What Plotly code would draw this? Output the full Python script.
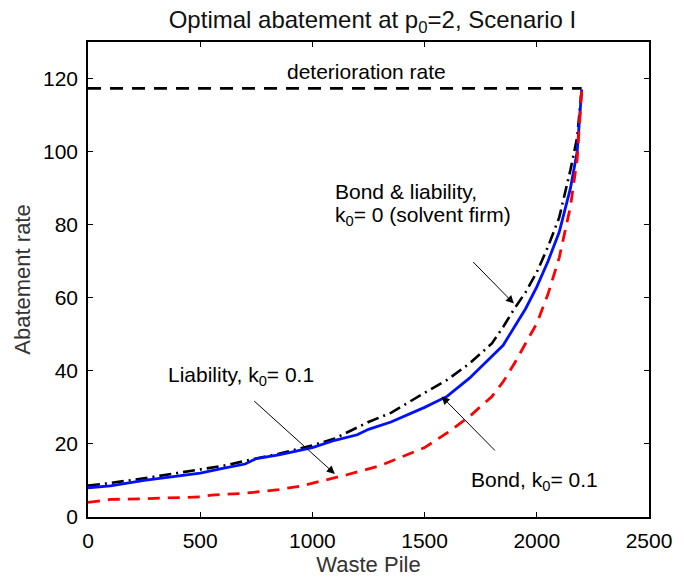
import plotly.graph_objects as go

# Waste pile levels (x) and optimal abatement rates for each policy
pile_bond = [0, 100, 250, 400, 500, 600, 700, 750, 850, 1000, 1100, 1200, 1250, 1350,
             1500, 1600, 1700, 1800, 1850, 1900, 1950, 2000, 2050, 2100, 2150, 2180, 2200]
abate_bond = [8, 8.5, 10, 11.2, 12, 13.3, 14.5, 16, 17, 19, 21, 22.5, 24, 26,
              30, 33, 38, 44, 47, 52, 57, 63, 70, 78, 90, 100, 117]

pile_solvent = [0, 100, 250, 400, 500, 600, 750, 850, 1000, 1100, 1250, 1350, 1500,
                1600, 1700, 1800, 1850, 1900, 1950, 2000, 2050, 2100, 2150, 2180, 2200]
abate_solvent = [8.6, 9.3, 10.6, 12, 13, 14, 16, 17.3, 19.6, 21.5, 26, 28.5, 34,
                 37.5, 42, 47.5, 52, 57, 61.5, 67, 74, 82, 95, 104, 117]

pile_liab = [0, 100, 250, 500, 550, 700, 850, 950, 1050, 1150, 1300, 1400, 1500,
             1600, 1700, 1800, 1850, 1900, 1950, 2000, 2050, 2100, 2150, 2180, 2200]
abate_liab = [4, 4.8, 5, 5.5, 6, 6.5, 7.5, 8.5, 10, 11.5, 14, 16.5, 19,
              23, 27.5, 33, 37, 42, 47.5, 53, 61, 71, 85, 98, 117]

deterioration_x = [0, 2200]
deterioration_y = [117.3, 117.3]

FONT = "Liberation Sans, Arial, Helvetica, sans-serif"

fig = go.Figure()
fig.add_trace(go.Scatter(x=deterioration_x, y=deterioration_y, mode="lines",
                         line=dict(color="black", width=2.6, dash="13px,9px")))
fig.add_trace(go.Scatter(x=pile_solvent, y=abate_solvent, mode="lines",
                         line=dict(color="black", width=2.6, dash="12px,5px,2px,5px")))
fig.add_trace(go.Scatter(x=pile_bond, y=abate_bond, mode="lines",
                         line=dict(color="#0010ff", width=2.8)))
fig.add_trace(go.Scatter(x=pile_liab, y=abate_liab, mode="lines",
                         line=dict(color="#ff0000", width=2.8, dash="12px,8px")))

font_ann = dict(family=FONT, size=21, color="black")

fig.add_annotation(x=1239, y=121.9, text="deterioration rate", showarrow=False,
                   font=font_ann, xanchor="center", yanchor="middle")
fig.add_annotation(x=1093, y=89.0, text="Bond & liability,", showarrow=False,
                   font=font_ann, xanchor="left", yanchor="middle")
fig.add_annotation(x=1093, y=82.3, text="k<sub>0</sub>= 0 (solvent firm)",
                   showarrow=False, font=font_ann, xanchor="left", yanchor="middle")
fig.add_annotation(x=346, y=38.6, text="Liability, k<sub>0</sub>= 0.1", showarrow=False,
                   font=font_ann, xanchor="left", yanchor="middle")
fig.add_annotation(x=1696, y=9.8, text="Bond, k<sub>0</sub>= 0.1", showarrow=False,
                   font=font_ann, xanchor="left", yanchor="middle")

# Pointer arrows: (tail x, tail y, head x, head y)
arrows = [(1710, 70.2, 1898, 58.4), (734, 32.1, 1100, 11.8), (1820, 17.8, 1576, 33)]
for tx, ty, hx, hy in arrows:
    fig.add_annotation(x=hx, y=hy, ax=tx, ay=ty, xref="x", yref="y", axref="x", ayref="y",
                       text="", showarrow=True, arrowhead=2, arrowsize=1.6, arrowwidth=1,
                       arrowcolor="black")

axis_common = dict(showline=True, linecolor="black", linewidth=1.5, mirror="ticks",
                   ticks="inside", ticklen=5, tickcolor="black", tickwidth=1,
                   showgrid=False, zeroline=False,
                   tickfont=dict(family=FONT, size=21, color="black"))

fig.update_layout(
    width=684, height=585,
    margin=dict(l=88, r=27, t=42, b=65),
    paper_bgcolor="white", plot_bgcolor="white",
    showlegend=False,
    title=dict(text="Optimal abatement at p<sub>0</sub>=2, Scenario I",
               x=(88 + 657) / 2 / 684, xanchor="center", y=0.967, yanchor="middle",
               font=dict(family=FONT, size=24, color="#111111")),
    xaxis=dict(range=[0, 2500], tickvals=[0, 500, 1000, 1500, 2000, 2500],
               ticklabelstandoff=4,
               title=dict(text="Waste Pile", standoff=6,
                          font=dict(family=FONT, size=22, color="#333333")),
               **axis_common),
    yaxis=dict(range=[0, 130], tickvals=[0, 20, 40, 60, 80, 100, 120],
               ticklabelstandoff=4,
               title=dict(text="Abatement rate", standoff=6,
                          font=dict(family=FONT, size=22, color="#333333")),
               **axis_common),
)

fig.write_html("out.html")
